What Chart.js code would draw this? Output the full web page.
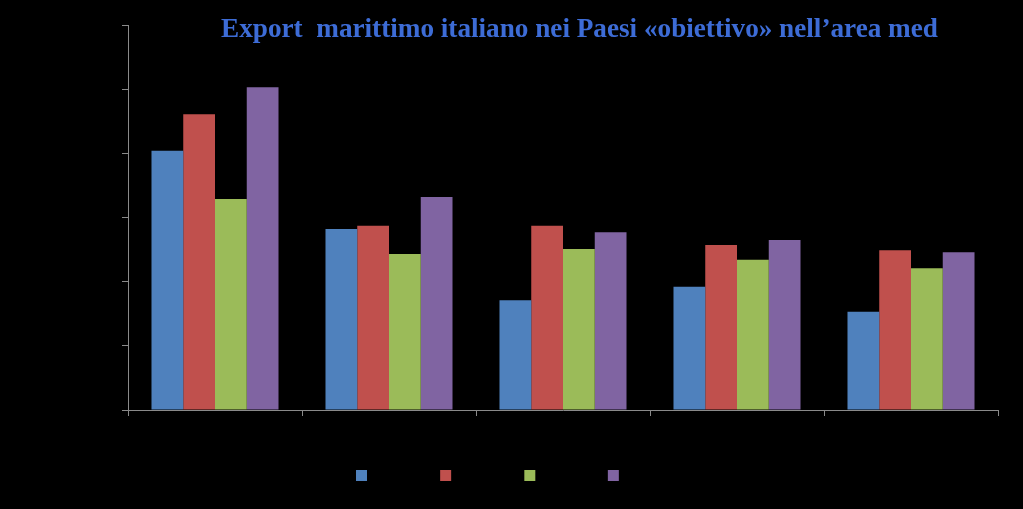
<!DOCTYPE html>
<html>
<head>
<meta charset="utf-8">
<script src="https://cdn.jsdelivr.net/npm/chart.js@4.4.1/dist/chart.umd.min.js"></script>
<style>
  html, body { margin: 0; padding: 0; background: #000; }
  #wrap { width: 1023px; height: 509px; background: #000; }
</style>
</head>
<body>
<div id="wrap"><canvas id="chart" width="1023" height="509"></canvas></div>
<script>
// Dati (etichette non visibili nell'originale: testo nero su nero)
const TITLE = 'Export  marittimo italiano nei Paesi «obiettivo» nell’area med';
const categories = ['Turchia', 'Egitto', 'Algeria', 'Tunisia', 'Marocco'];
const seriesNames = ['2009', '2010', '2011', '2012'];
const serie2009 = [4.04, 2.82, 1.71, 1.92, 1.53];
const serie2010 = [4.61, 2.87, 2.87, 2.57, 2.49];
const serie2011 = [3.29, 2.43, 2.51, 2.34, 2.21];
const serie2012 = [5.03, 3.32, 2.77, 2.65, 2.46];
const yTicks = [0, 1, 2, 3, 4, 5, 6];

const COLORS = ['#4f81bd', '#c0504d', '#9bbb59', '#8064a2'];
const AXIS = '#8a8a8a';

const titlePlugin = {
  id: 'centeredTitle',
  afterDraw(chart) {
    const ctx = chart.ctx;
    ctx.save();
    ctx.font = 'bold 100px "Liberation Serif"';
    const w = ctx.measureText(TITLE).width;
    const size = 100 * 717 / w;
    ctx.font = `bold ${size}px "Liberation Serif"`;
    ctx.fillStyle = '#3d6cd6';
    ctx.textAlign = 'center';
    ctx.textBaseline = 'alphabetic';
    ctx.fillText(TITLE, 579.5, 37);
    ctx.restore();
  }
};

const allSeries = [serie2009, serie2010, serie2011, serie2012];

new Chart(document.getElementById('chart'), {
  type: 'bar',
  data: {
    labels: categories,
    datasets: allSeries.map((data, i) => ({
      label: seriesNames[i],
      data,
      backgroundColor: COLORS[i],
      borderWidth: 0,
      barPercentage: 1,
      categoryPercentage: 0.73
    }))
  },
  options: {
    responsive: false,
    animation: false,
    layout: { padding: { left: 0, right: 25, top: 25, bottom: 18 } },
    plugins: {
      title: { display: false },
      tooltip: { enabled: false },
      legend: {
        position: 'bottom',
        labels: {
          boxWidth: 11,
          boxHeight: 11,
          padding: 50,
          color: '#000',
          font: { size: 8.5, family: 'Liberation Sans' }
        }
      }
    },
    scales: {
      x: {
        afterFit: (scale) => { scale.height = 10; },
        border: { color: AXIS, width: 1 },
        grid: { drawOnChartArea: false, drawTicks: true, tickLength: 6, color: AXIS },
        ticks: { display: false }
      },
      y: {
        min: yTicks[0],
        max: yTicks[yTicks.length - 1],
        afterFit: (scale) => { scale.width = 128; },
        afterBuildTicks: (scale) => { scale.ticks = yTicks.map((v) => ({ value: v })); },
        border: { color: AXIS, width: 1 },
        grid: { drawOnChartArea: false, drawTicks: true, tickLength: 6, color: AXIS },
        ticks: { display: false }
      }
    }
  },
  plugins: [titlePlugin]
});
</script>
</body>
</html>
